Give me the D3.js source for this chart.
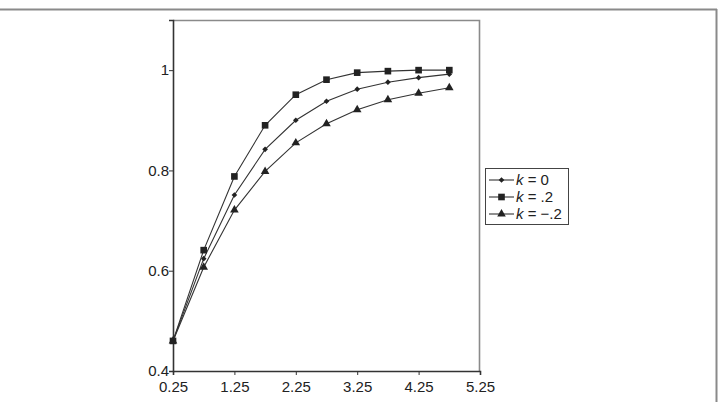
<!DOCTYPE html>
<html>
<head>
<meta charset="utf-8">
<script src="https://cdn.jsdelivr.net/npm/d3@7"></script>
<style>
  body { margin: 0; background: #fff; }
  svg { display: block; font-family: "Liberation Sans", Arial, sans-serif; }
  .tick text { font-size: 15px; }
</style>
</head>
<body>
<script>
// data
var xs = [0.25, 0.75, 1.25, 1.75, 2.25, 2.75, 3.25, 3.75, 4.25, 4.75];
var kZero = [0.46, 0.624, 0.751, 0.842, 0.900, 0.938, 0.962, 0.976, 0.985, 0.992];
var kPos = [0.46, 0.641, 0.788, 0.890, 0.951, 0.981, 0.995, 0.998, 1.0, 1.0];
var kNeg = [0.46, 0.607, 0.721, 0.798, 0.855, 0.893, 0.921, 0.941, 0.954, 0.965];
var xTicks = [0.25, 1.25, 2.25, 3.25, 4.25, 5.25];
var yTicks = [0.4, 0.6, 0.8, 1];
var seriesNames = ["0", ".2", "\u2212.2"];
var seriesShapes = [d3.symbolSquare, d3.symbolSquare, d3.symbolTriangle];
var seriesSizes = [16, 44, 32];
var seriesRot = [45, 0, 0];

var W = 718, H = 402;
var margin = {top: 20, left: 173, right: 238, bottom: 31};
var width = W - margin.left - margin.right,
    height = H - margin.top - margin.bottom;

var svg = d3.select("body").append("svg")
    .attr("width", W)
    .attr("height", H);

// outer frame (top and right only visible)
svg.append("line").attr("x1", 0).attr("x2", 717).attr("y1", 9.5).attr("y2", 9.5)
    .attr("stroke", "#8a8a8a").attr("stroke-width", 2);
svg.append("line").attr("x1", 716.5).attr("x2", 716.5).attr("y1", 9).attr("y2", H)
    .attr("stroke", "#8a8a8a").attr("stroke-width", 2);

var g = svg.append("g")
    .attr("transform", "translate(" + margin.left + "," + margin.top + ")");

var x = d3.scaleLinear().domain([0.25, 5.25]).range([0, width]);
var y = d3.scaleLinear().domain([0.4, 1.1]).range([height, 0]);

// top and right plot border in grey
g.append("path")
    .attr("d", "M0,0.5H" + (width - 0.5) + "V" + height)
    .attr("fill", "none").attr("stroke", "#8a8a8a").attr("stroke-width", 1.6);

var xAxis = g.append("g")
    .attr("transform", "translate(0," + height + ")")
    .call(d3.axisBottom(x).tickValues(xTicks).tickFormat(d3.format(".2f")).tickSizeOuter(0).tickSize(4));
var yAxis = g.append("g")
    .call(d3.axisLeft(y).tickValues(yTicks).tickFormat(function(d) { return d === 1 ? "1" : d3.format(".1f")(d); }).tickSizeOuter(0).tickSize(4));

[xAxis, yAxis].forEach(function(a) {
  a.attr("font-size", 15).attr("font-family", "Liberation Sans, Arial, sans-serif");
  a.select(".domain").attr("stroke", "#333").attr("stroke-width", 1.6);
  a.selectAll(".tick line").attr("stroke", "#333");
  a.selectAll(".tick text").attr("fill", "#222");
});
xAxis.selectAll(".tick text").attr("dy", "0.95em").attr("y", 7);
yAxis.selectAll(".tick text").attr("x", -4);

var allSeries = [kZero, kPos, kNeg];
var line = d3.line()
    .x(function(d, i) { return x(xs[i]); })
    .y(function(d) { return y(d); });

allSeries.forEach(function(vals, s) {
  g.append("path")
      .datum(vals)
      .attr("d", line)
      .attr("fill", "none")
      .attr("stroke", "#333")
      .attr("stroke-width", 1.1);
  g.selectAll(".pt" + s)
      .data(vals)
    .enter().append("path")
      .attr("transform", function(d, i) { return "translate(" + x(xs[i]) + "," + y(d) + ") rotate(" + seriesRot[s] + ")"; })
      .attr("d", d3.symbol().type(seriesShapes[s]).size(seriesSizes[s]))
      .attr("fill", "#222");
});

// legend
var lg = svg.append("g").attr("transform", "translate(485,168)");
lg.append("rect").attr("x", 0.5).attr("y", 0.5).attr("width", 83).attr("height", 56)
    .attr("fill", "#fff").attr("stroke", "#444");
seriesNames.forEach(function(name, s) {
  var yy = 12 + s * 17;
  lg.append("line").attr("x1", 4).attr("x2", 29).attr("y1", yy).attr("y2", yy)
      .attr("stroke", "#333").attr("stroke-width", 1.1);
  lg.append("path").attr("transform", "translate(16.5," + yy + ") rotate(" + seriesRot[s] + ")")
      .attr("d", d3.symbol().type(seriesShapes[s]).size(seriesSizes[s])).attr("fill", "#222");
  var t = lg.append("text").attr("x", 31).attr("y", yy + 5)
      .style("font-size", "15px").attr("fill", "#222");
  t.append("tspan").style("font-style", "italic").text("k");
  t.append("tspan").text(" = " + name);
});
</script>
</body>
</html>
